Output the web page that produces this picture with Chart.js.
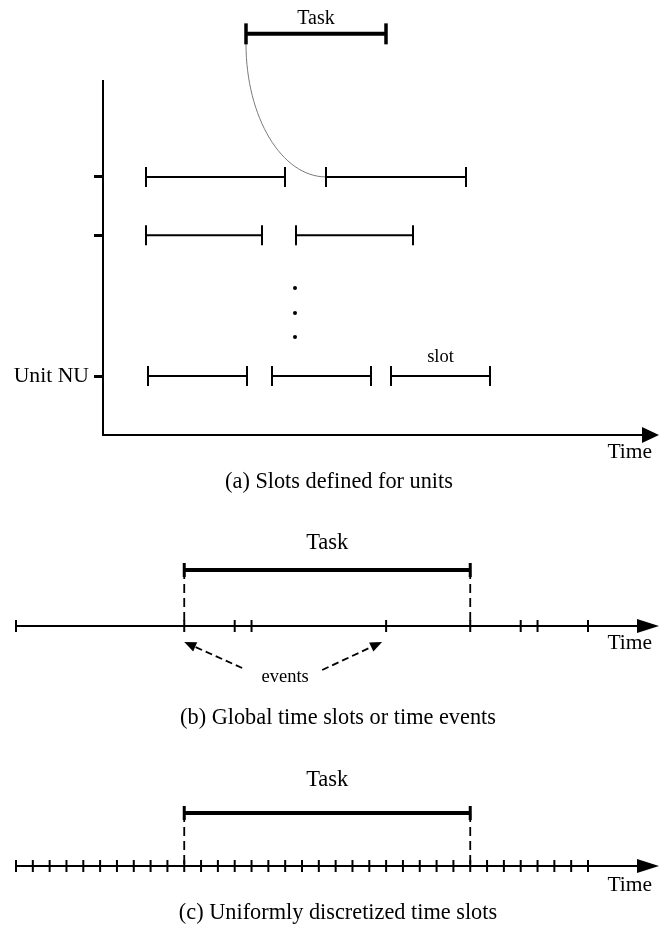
<!DOCTYPE html>
<html><head><meta charset="utf-8">
<script src="https://cdn.jsdelivr.net/npm/chart.js@4"></script>
<style>
html,body{margin:0;padding:0;background:#fff;}
#wrap{position:relative;width:659px;height:927px;overflow:hidden;background:#fff;}
canvas{position:absolute;left:0;}
</style></head><body>
<div id="wrap">
<canvas id="ca" width="659" height="500" style="top:0px"></canvas>
<canvas id="cb" width="659" height="240" style="top:500px"></canvas>
<canvas id="cc" width="659" height="187" style="top:740px"></canvas>
</div>
<script>
// ---------- Panel (a): slots defined for units ----------
const unitLabels = ['', '', 'Unit NU'];
const unitLevels = [2.73, 4.37, 8.34];
const unitSlots = [
  [[4.3, 18.2], [22.3, 36.3]],
  [[4.3, 15.9], [19.3, 31.0]],
  [[4.5, 14.4], [16.9, 26.8], [28.8, 38.7]]
];
const taskA = [14.3, 28.3];
const taskLevelA = -1.3;
const dotTime = 19.2;
const dotLevels = [5.86, 6.56, 7.24];
const timeMaxA = 54.2;
const levelRangeA = [-1.69, 10];

// ---------- Panel (b): global time slots / events ----------
const eventTimes = [0, 10, 13, 14, 22, 27, 30, 31, 34];
const arrowEvents = [10, 22];
const taskB = [10, 27];

// ---------- Panel (c): uniformly discretized slots ----------
const uniformSlots = [0, 1, 2, 3, 4, 5, 6, 7, 8, 9, 10, 11, 12, 13, 14, 15, 16, 17,
  18, 19, 20, 21, 22, 23, 24, 25, 26, 27, 28, 29, 30, 31, 32, 33, 34];
const taskC = [10, 27];

const captions = ['(a) Slots defined for units', '(b) Global time slots or time events', '(c) Uniformly discretized time slots'];

const SERIF = '"Liberation Serif", "Times New Roman", serif';
Chart.defaults.font.family = SERIF;
Chart.defaults.color = '#000';

function seg(x0, x1, y, w, r, pw) {
  return {
    type: 'line', data: [{x: x0, y: y}, {x: x1, y: y}],
    borderColor: '#000', borderWidth: w, pointStyle: 'line', pointRotation: 90,
    pointRadius: r, pointHoverRadius: r, pointBorderWidth: pw, pointBorderColor: '#000',
    clip: false, tension: 0
  };
}
function vdash(xv, y0, y1) {
  return {
    type: 'line', data: [{x: xv, y: y0}, {x: xv, y: y1}],
    borderColor: '#000', borderWidth: 1.8, borderDash: [9, 5], pointRadius: 0, clip: false
  };
}
function tickPoints(vals, r) {
  return {
    type: 'line', data: vals.map(v => ({x: v, y: 0})), showLine: false,
    pointStyle: 'line', pointRotation: 90, pointRadius: r, pointHoverRadius: r,
    pointBorderWidth: 2, pointBorderColor: '#000', clip: false
  };
}
function text(ctx, s, x, y, size, align) {
  ctx.save();
  ctx.font = size + 'px ' + SERIF;
  ctx.fillStyle = '#000';
  ctx.textAlign = align || 'center';
  ctx.textBaseline = 'middle';
  ctx.fillText(s, x, y);
  ctx.restore();
}
function arrowHead(ctx, tipX, tipY, fromX, fromY, len, half) {
  const a = Math.atan2(tipY - fromY, tipX - fromX);
  ctx.beginPath();
  ctx.moveTo(tipX, tipY);
  ctx.lineTo(tipX - len * Math.cos(a) + half * Math.sin(a), tipY - len * Math.sin(a) - half * Math.cos(a));
  ctx.lineTo(tipX - len * Math.cos(a) - half * Math.sin(a), tipY - len * Math.sin(a) + half * Math.cos(a));
  ctx.closePath();
  ctx.fillStyle = '#000';
  ctx.fill();
}
const baseOpts = {
  responsive: false, animation: false, events: [],
  plugins: {legend: {display: false}, tooltip: {enabled: false}, title: {display: false}}
};

// ---------- Chart (a) ----------
const dsA = [];
unitSlots.forEach((row, i) => row.forEach(s => dsA.push(seg(s[0], s[1], unitLevels[i], 2, 10, 2))));
dsA.push(seg(taskA[0], taskA[1], taskLevelA, 4, 10.5, 3.5));
dsA.push({
  type: 'line', data: dotLevels.map(v => ({x: dotTime, y: v})), showLine: false,
  pointStyle: 'circle', pointRadius: 2, pointBackgroundColor: '#000', pointBorderWidth: 0, clip: false
});

const plugA = {
  id: 'plugA',
  beforeDatasetsDraw(chart) {
    const {ctx, scales: {x, y}, chartArea: ca} = chart;
    ctx.save();
    // vertical axis line (starts at level 0)
    ctx.strokeStyle = '#000'; ctx.lineWidth = 2;
    ctx.beginPath(); ctx.moveTo(ca.left, y.getPixelForValue(0)); ctx.lineTo(ca.left, ca.bottom + 1); ctx.stroke();
    // curve linking task to a slot
    const x0 = x.getPixelForValue(taskA[0]), y0 = y.getPixelForValue(taskLevelA) + 10;
    const x1 = x.getPixelForValue(unitSlots[0][1][0]), y1 = y.getPixelForValue(unitLevels[0]);
    const k = 0.5523;
    ctx.strokeStyle = '#7a7a7a'; ctx.lineWidth = 1;
    ctx.beginPath(); ctx.moveTo(x0, y0);
    ctx.bezierCurveTo(x0, y0 + k * (y1 - y0), x1 - k * (x1 - x0), y1, x1, y1);
    ctx.stroke();
    ctx.restore();
  },
  afterDraw(chart) {
    const {ctx, scales: {x, y}, chartArea: ca} = chart;
    ctx.save();
    arrowHead(ctx, chart.width, ca.bottom, ca.right - 3, ca.bottom, 17, 8);
    ctx.restore();
    text(ctx, 'Task', x.getPixelForValue((taskA[0] + taskA[1]) / 2), y.getPixelForValue(taskLevelA) - 15, 20);
    const last = unitSlots[2][2];
    text(ctx, 'slot', x.getPixelForValue((last[0] + last[1]) / 2), y.getPixelForValue(unitLevels[2]) - 19, 18.5);
    text(ctx, 'Time', chart.width - 7, ca.bottom + 17, 21.5, 'right');
    text(ctx, captions[0], 339, 482, 22.3);
  }
};

new Chart(document.getElementById('ca'), {
  type: 'line',
  data: {datasets: dsA},
  options: Object.assign({}, baseOpts, {
    layout: {padding: {top: 20, right: 14, left: 0, bottom: 0}},
    scales: {
      x: {
        type: 'linear', min: 0, max: timeMaxA, display: true,
        grid: {display: false}, ticks: {display: false},
        border: {display: true, width: 2, color: '#000'},
        afterFit: s => { s.height = 65; }
      },
      y: {
        type: 'linear', min: levelRangeA[0], max: levelRangeA[1], reverse: true, position: 'left',
        afterFit: s => { s.width = 103; },
        afterBuildTicks: s => { s.ticks = unitLevels.map(v => ({value: v})); },
        ticks: {callback: (v, i) => unitLabels[i], font: {size: 21.7, family: SERIF}, color: '#000', padding: 5, autoSkip: false},
        grid: {display: true, drawOnChartArea: false, drawTicks: true, tickLength: 9, lineWidth: 3, color: '#000'},
        border: {display: false}
      }
    }
  }),
  plugins: [plugA]
});

// ---------- Chart (b) and (c) ----------
function timeline(canvasId, ticks, task, padTop, padBottom, opts) {
  const ds = [];
  ds.push(vdash(task[0], 1, 0));
  ds.push(vdash(task[1], 1, 0));
  ds.push(tickPoints(ticks, 6));
  ds.push(seg(task[0], task[1], 1, 4, 7, 3));
  const plug = {
    id: 'plug_' + canvasId,
    beforeDatasetsDraw(chart) {
      const {ctx, scales: {x, y}} = chart;
      const ay = y.getPixelForValue(0);
      ctx.save();
      ctx.strokeStyle = '#000'; ctx.lineWidth = 2;
      ctx.beginPath(); ctx.moveTo(x.getPixelForValue(0), ay); ctx.lineTo(chart.width - 10, ay); ctx.stroke();
      arrowHead(ctx, chart.width, ay, 0, ay, 22, 7);
      ctx.restore();
    },
    afterDraw(chart) {
      const {ctx, scales: {x, y}} = chart;
      const ay = y.getPixelForValue(0), ty = y.getPixelForValue(1);
      text(ctx, 'Task', x.getPixelForValue((task[0] + task[1]) / 2), ty + opts.taskDy, 22.5);
      text(ctx, 'Time', chart.width - 7, ay + opts.timeDy, 21.5, 'right');
      text(ctx, opts.caption, 338, opts.capY, 22.3);
      if (opts.arrows) {
        const ex = opts.arrows.map(t => x.getPixelForValue(t));
        const lx = (ex[0] + ex[1]) / 2, ly = ay + 51;
        text(ctx, 'events', lx, ly, 18.5);
        const tails = [[lx - 43, ly - 9], [lx + 37, ly - 7]];
        const tips = [[ex[0], ay + 16], [ex[1] - 4, ay + 16]];
        ctx.save();
        ctx.strokeStyle = '#000'; ctx.lineWidth = 1.8; ctx.setLineDash([7, 4]);
        for (let i = 0; i < 2; i++) {
          const [tx, tyy] = tails[i], [px, py] = tips[i];
          const a = Math.atan2(py - tyy, px - tx);
          ctx.beginPath(); ctx.moveTo(tx, tyy); ctx.lineTo(px - 8 * Math.cos(a), py - 8 * Math.sin(a)); ctx.stroke();
        }
        ctx.setLineDash([]);
        for (let i = 0; i < 2; i++) arrowHead(ctx, tips[i][0], tips[i][1], tails[i][0], tails[i][1], 12, 5);
        ctx.restore();
      }
    }
  };
  new Chart(document.getElementById(canvasId), {
    type: 'line',
    data: {datasets: ds},
    options: Object.assign({}, baseOpts, {
      layout: {padding: {top: padTop, bottom: padBottom, left: 16, right: 71}},
      scales: {
        x: {type: 'linear', min: 0, max: 34, display: false},
        y: {type: 'linear', min: 0, max: 1, display: false}
      }
    }),
    plugins: [plug]
  });
}

timeline('cb', eventTimes, taskB, 70, 114, {taskDy: -27, timeDy: 17, capY: 218, caption: captions[1], arrows: arrowEvents});
timeline('cc', uniformSlots, taskC, 73, 61, {taskDy: -33, timeDy: 19, capY: 173, caption: captions[2]});
</script>
</body></html>
